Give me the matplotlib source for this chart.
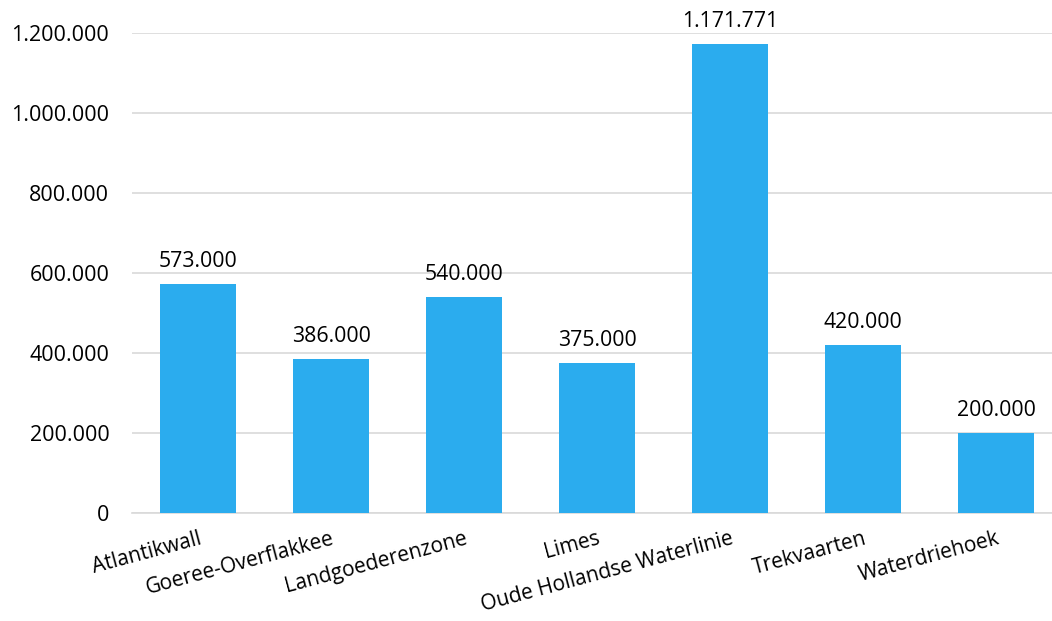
import numpy as np
import matplotlib.pyplot as plt
from matplotlib.ticker import FuncFormatter

# Data
categories = ['Atlantikwall', 'Goeree-Overflakkee', 'Landgoederenzone', 'Limes',
              'Oude Hollandse Waterlinie', 'Trekvaarten', 'Waterdriehoek']
values = [573000, 386000, 540000, 375000, 1171771, 420000, 200000]

plt.rcParams['font.family'] = ['Open Sans', 'DejaVu Sans']

def dutch(v, pos=None):
    return f'{int(v):,}'.replace(',', '.')

fig = plt.figure(figsize=(10.52, 6.21), dpi=100)
# plot area runs slightly past the right edge, as in the reference
ax = fig.add_axes([0.1250, 0.174, 0.885, 0.773])

x = np.arange(len(categories))
bars = ax.bar(x, values, width=0.57, color='#2BACEE', zorder=3)

for xi, v in zip(x, values):
    ax.text(xi, v + 30000, dutch(v), ha='center', va='bottom', fontsize=15.3, color='#000000')

ax.set_xlim(-0.5, len(categories) - 0.5)
ax.set_ylim(0, 1200000)
ax.set_yticks(np.arange(0, 1200001, 200000))
ax.yaxis.set_major_formatter(FuncFormatter(dutch))
ax.grid(axis='y', color='#D9D9D9', linewidth=1.2, zorder=0)

ax.set_xticks(x)
ax.set_xticklabels(categories, rotation=15, ha='right', rotation_mode='anchor', fontsize=15)
ax.tick_params(axis='both', length=0)
ax.tick_params(axis='y', pad=16, labelsize=15.5)
ax.tick_params(axis='x', pad=11)

for s in ['top', 'right', 'left']:
    ax.spines[s].set_visible(False)
ax.spines['bottom'].set_color('#D9D9D9')
ax.spines['bottom'].set_linewidth(1.2)

fig.savefig('out.png', dpi=100)
